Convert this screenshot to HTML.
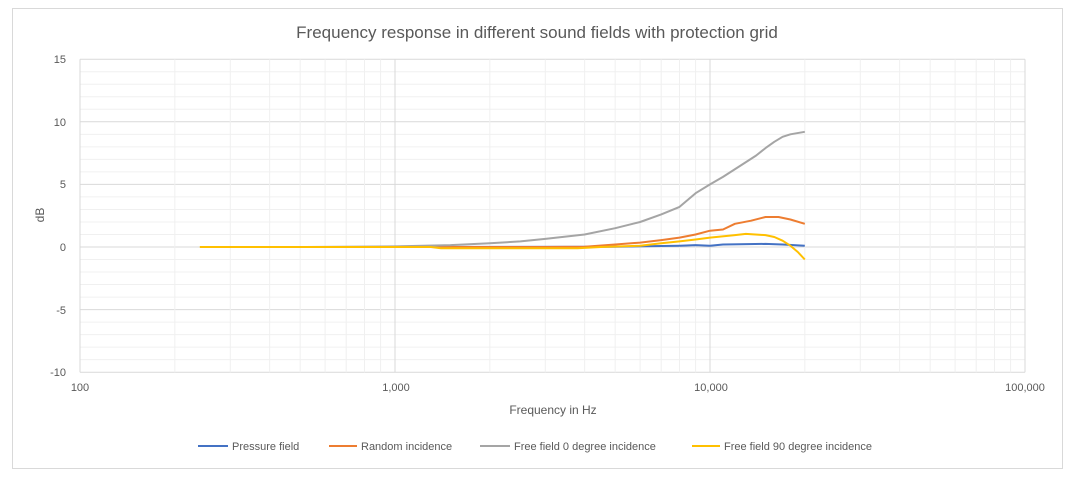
<!DOCTYPE html><html><head><style>body{margin:0;background:#fff}svg{display:block;font-family:"Liberation Sans",sans-serif}</style></head><body>
<svg id="s" width="1085" height="481" xmlns="http://www.w3.org/2000/svg">
<rect width="1085" height="481" fill="#fff"/>
<rect x="12.5" y="8.5" width="1050" height="460" fill="#fff" stroke="#d9d9d9"/>
<g id="grid"></g>
<text x="537" y="38" font-size="17" fill="#595959" text-anchor="middle">Frequency response in different sound fields with protection grid</text>
<g font-size="11" fill="#595959" text-anchor="end">
<text x="66" y="63">15</text><text x="66" y="126">10</text><text x="66" y="188">5</text><text x="66" y="251">0</text><text x="66" y="314">-5</text><text x="66" y="376">-10</text></g>
<g font-size="11" fill="#595959" text-anchor="middle">
<text x="80" y="391">100</text><text x="396" y="391">1,000</text><text x="711" y="391">10,000</text><text x="1025" y="391">100,000</text>
<text x="553" y="414" font-size="12">Frequency in Hz</text>
<text transform="translate(44,215) rotate(-90)" font-size="12">dB</text></g>
<g id="curves" fill="none" stroke-width="2" stroke-linejoin="round"></g>
<g font-size="11" fill="#595959" stroke-width="2">
<line x1="198" y1="446" x2="228" y2="446" stroke="#4472c4"/><text x="232" y="450">Pressure field</text>
<line x1="329" y1="446" x2="357" y2="446" stroke="#ed7d31"/><text x="361" y="450">Random incidence</text>
<line x1="480" y1="446" x2="510" y2="446" stroke="#a5a5a5"/><text x="514" y="450">Free field 0 degree incidence</text>
<line x1="692" y1="446" x2="720" y2="446" stroke="#ffc000"/><text x="724" y="450">Free field 90 degree incidence</text>
</g>
</svg>
<script>
const X=f=>80+315*Math.log10(f/100),Y=d=>247-12.52*d;
let g='';
for(let d=-10;d<=15;d++){let maj=d%5==0;g+=`<line x1="80" x2="1025" y1="${Y(d)}" y2="${Y(d)}" stroke="${maj?'#d9d9d9':'#f0f0f0'}"/>`;}
for(let e=100;e<100000;e*=10)for(let k=1;k<=10;k++){let f=e*k;let maj=k==1||k==10;g+=`<line y1="${Y(15)}" y2="${Y(-10)}" x1="${X(f)}" x2="${X(f)}" stroke="${maj?'#d9d9d9':'#f0f0f0'}"/>`;}
document.getElementById('grid').innerHTML=g;
const S={
'#a5a5a5':[[520,0],[1000,.05],[1500,.15],[2000,.3],[2500,.45],[3000,.65],[4000,1],[5000,1.5],[6000,2],[7000,2.6],[8000,3.2],[9000,4.3],[10000,5],[11000,5.6],[12500,6.5],[14000,7.3],[15000,7.9],[16000,8.4],[17000,8.8],[18000,9],[20000,9.2]],
'#ed7d31':[[500,0],[3000,0],[4000,.02],[5000,.2],[6000,.35],[7000,.55],[8000,.75],[9000,1],[10000,1.3],[11000,1.4],[12000,1.85],[13500,2.1],[15000,2.4],[16500,2.4],[18000,2.2],[20000,1.85]],
'#ffc000':[[240,0],[1300,0],[1400,-.1],[3800,-.1],[4500,0],[6000,.1],[7000,.3],[8000,.45],[9000,.6],[10000,.75],[12000,.95],[13000,1.05],[15000,.95],[16000,.8],[17000,.5],[18000,.1],[19000,-.4],[20000,-1]],
'#4472c4':[[500,0],[1000,0],[5000,.02],[8000,.1],[9000,.15],[10000,.1],[11000,.2],[15000,.25],[17000,.2],[20000,.1]]};
let c='';for(const k of ['#4472c4','#ed7d31','#a5a5a5','#ffc000'])c+=`<polyline stroke="${k}" points="${S[k].map(p=>X(p[0]).toFixed(1)+','+Y(p[1]).toFixed(1)).join(' ')}"/>`;
document.getElementById('curves').innerHTML=c;
</script></body></html>
